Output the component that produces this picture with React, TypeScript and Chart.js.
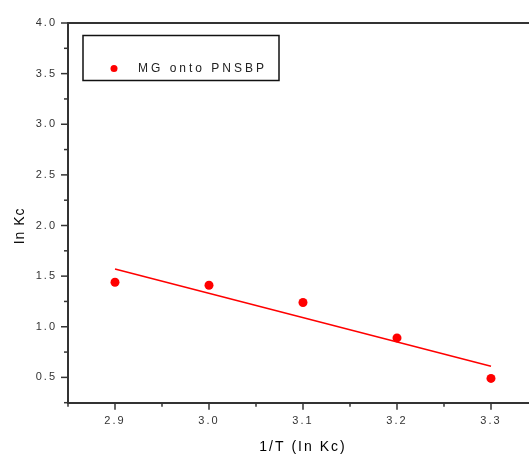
import React, { useEffect, useRef } from 'react';
import { Chart, registerables } from 'chart.js';

Chart.register(...registerables);

// ---- data ----
const xValues = [2.9, 3.0, 3.1, 3.2, 3.3];
const lnKcValues = [1.44, 1.41, 1.24, 0.89, 0.49];
const fitX = [2.9, 3.3];
const fitY = [1.57, 0.61];
const xTicks = [2.85, 2.9, 2.95, 3.0, 3.05, 3.1, 3.15, 3.2, 3.25, 3.3, 3.35];
const yTicks = [0.25, 0.5, 0.75, 1.0, 1.25, 1.5, 1.75, 2.0, 2.25, 2.5, 2.75, 3.0, 3.25, 3.5, 3.75, 4.0];
const seriesLabel = 'MG onto PNSBP';
const xTitle = '1/T (In Kc)';
const yTitle = 'In Kc';

const FONT = '"Liberation Sans", Arial, sans-serif';
const RED = '#ff0000';
const AXIS = '#333333';

const isMajor = (v: number, step: number) => Math.abs(v / step - Math.round(v / step)) < 1e-6;

const decorPlugin = {
  id: 'decor',
  beforeDraw(chart: any) {
    chart.ctx.letterSpacing = '2px';
  },
  afterDraw(chart: any) {
    const { ctx, chartArea: ca } = chart;
    const xs = chart.scales.x;
    const ys = chart.scales.y;
    const line = (x1: number, y1: number, x2: number, y2: number) => {
      ctx.beginPath();
      ctx.moveTo(x1, y1);
      ctx.lineTo(x2, y2);
      ctx.stroke();
    };
    ctx.save();
    ctx.strokeStyle = AXIS;
    ctx.lineWidth = 1.5;
    xs.ticks.forEach((t: any) => {
      const px = xs.getPixelForValue(t.value);
      const len = isMajor(t.value, 0.1) ? 7 : 4;
      line(px, ca.bottom, px, ca.bottom + len);
    });
    ys.ticks.forEach((t: any) => {
      const py = ys.getPixelForValue(t.value);
      const len = isMajor(t.value, 0.5) ? 7 : 4;
      line(ca.left - len, py, ca.left, py);
    });
    // top frame line
    ctx.lineWidth = 2;
    line(ca.left - 1, ca.top, ca.right, ca.top);

    // legend box
    ctx.strokeStyle = '#111';
    ctx.lineWidth = 1.5;
    ctx.strokeRect(ca.left + 15, ca.top + 12.5, 196, 45);
    ctx.fillStyle = RED;
    ctx.beginPath();
    ctx.arc(ca.left + 46, ca.top + 45.5, 3.5, 0, Math.PI * 2);
    ctx.fill();
    ctx.letterSpacing = '3px';
    ctx.font = `12px ${FONT}`;
    ctx.fillStyle = '#222';
    ctx.textAlign = 'left';
    ctx.textBaseline = 'middle';
    ctx.fillText(seriesLabel, ca.left + 70, ca.top + 46);

    // y title
    ctx.letterSpacing = '1px';
    ctx.font = `14px ${FONT}`;
    ctx.fillStyle = '#000';
    ctx.translate(20, (ca.top + ca.bottom) / 2 + 13);
    ctx.rotate(-Math.PI / 2);
    ctx.textAlign = 'center';
    ctx.fillText(yTitle, 0, 0);
    ctx.restore();
  },
};

export default function App() {
  const ref = useRef<HTMLCanvasElement | null>(null);

  useEffect(() => {
    if (!ref.current) return;
    const chart = new Chart(ref.current, {
      type: 'scatter',
      data: {
        datasets: [
          {
            label: seriesLabel,
            data: xValues.map((x, i) => ({ x, y: lnKcValues[i] })),
            backgroundColor: RED,
            borderColor: RED,
            borderWidth: 0,
            pointRadius: 4.5,
            pointStyle: 'circle',
            showLine: false,
          },
          {
            label: 'fit',
            data: fitX.map((x, i) => ({ x, y: fitY[i] })),
            borderColor: RED,
            backgroundColor: RED,
            borderWidth: 1.5,
            pointRadius: 0,
            showLine: true,
          },
        ],
      },
      options: {
        animation: false,
        responsive: true,
        maintainAspectRatio: false,
        layout: { padding: { top: 23, right: 7, left: 0, bottom: 0 } },
        plugins: { legend: { display: false }, tooltip: { enabled: false } },
        scales: {
          x: {
            type: 'linear',
            position: 'bottom',
            min: 2.85,
            max: 3.35,
            afterBuildTicks: (s: any) => {
              s.ticks = xTicks.map((v) => ({ value: v }));
            },
            afterFit: (s: any) => {
              s.height = 51.3;
            },
            grid: { display: true, drawOnChartArea: false, drawTicks: true, tickLength: 7, tickColor: 'rgba(0,0,0,0)' },
            border: { display: true, color: AXIS, width: 2 },
            ticks: {
              autoSkip: false,
              maxRotation: 0,
              padding: 5,
              color: '#333',
              font: { family: FONT, size: 11 },
              callback: (v: any) => (isMajor(Number(v), 0.1) ? Number(v).toFixed(1) : ''),
            },
            title: {
              display: true,
              text: xTitle,
              color: '#000',
              font: { family: FONT, size: 14, lineHeight: 1 },
              padding: { top: 0, bottom: 0 },
            },
          },
          y: {
            type: 'linear',
            min: 0.25,
            max: 4.0,
            afterBuildTicks: (s: any) => {
              s.ticks = yTicks.map((v) => ({ value: v }));
            },
            afterFit: (s: any) => {
              s.width = 68;
            },
            grid: { display: true, drawOnChartArea: false, drawTicks: true, tickLength: 7, tickColor: 'rgba(0,0,0,0)' },
            border: { display: true, color: AXIS, width: 2 },
            ticks: {
              autoSkip: false,
              padding: 4,
              color: '#333',
              font: { family: FONT, size: 11 },
              callback: (v: any) => (isMajor(Number(v), 0.5) ? Number(v).toFixed(1) : ''),
            },
            title: { display: false },
          },
        },
      },
      plugins: [decorPlugin],
    } as any);
    return () => chart.destroy();
  }, []);

  return (
    <div
      style={{
        position: 'fixed',
        left: 0,
        top: 0,
        width: 529,
        height: 454,
        overflow: 'hidden',
        background: '#fff',
      }}
    >
      <div style={{ position: 'relative', width: 545, height: 454 }}>
        <canvas ref={ref} />
      </div>
    </div>
  );
}
